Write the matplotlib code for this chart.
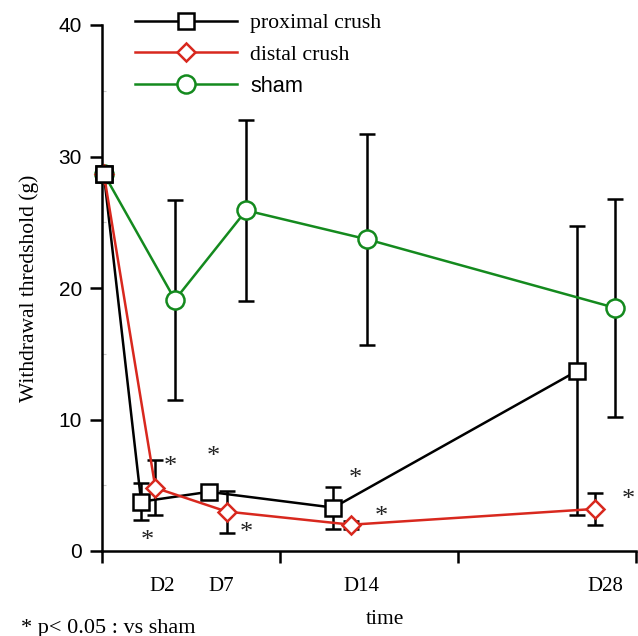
"""Withdrawal threshold after nerve crush, by group."""

import matplotlib
matplotlib.use("Agg")
import matplotlib.pyplot as plt
import matplotlib.transforms as mtransforms
from matplotlib.ticker import MultipleLocator

# x positions are days, each group nudged sideways like the original
prox_x = [0.1, 2.2, 6.0, 13.0, 26.7]
prox_y = [28.7, 3.75, 4.5, 3.3, 13.7]
prox_err = [0.0, 1.4, 0.4, 1.6, 11.0]

dist_x = [0.1, 3.0, 7.0, 14.0, 27.7]
dist_y = [28.7, 4.8, 3.0, 2.0, 3.2]
dist_err = [0.0, 2.1, 1.6, 0.3, 1.2]

sham_x = [0.1, 4.1, 8.1, 14.9, 28.8]
sham_y = [28.7, 19.1, 25.9, 23.7, 18.5]
sham_err = [0.0, 7.6, 6.9, 8.0, 8.3]

day_labels = ["D2", "D7", "D14", "D28"]
day_label_x = [3.37, 6.7, 14.55, 28.26]

# significance marks vs sham
star_x = [3.82, 2.53, 6.24, 8.09, 14.21, 15.67, 29.55]
star_y = [6.39, 0.76, 7.15, 1.37, 5.48, 2.59, 3.88]

RED = "#d8281e"
GREEN = "#148a1e"
SERIF = "Liberation Serif"
SANS = "Liberation Sans"

fig = plt.figure(figsize=(6.38, 6.36), dpi=100)
ax = fig.add_axes([102 / 638, 1 - 551 / 636, 534 / 638, 526 / 636])

# error bars first, markers on top cover them
for xs, ys, es in [(prox_x, prox_y, prox_err), (dist_x, dist_y, dist_err), (sham_x, sham_y, sham_err)]:
    ax.errorbar(xs[1:], ys[1:], yerr=es[1:], fmt="none", ecolor="black",
                elinewidth=1.8, capsize=6, capthick=1.8, zorder=1, clip_on=False)

series = [
    (prox_x, prox_y, "black", "s", 12, "proximal crush", 3),
    (dist_x, dist_y, RED, "D", 9, "distal crush", 4),
    (sham_x, sham_y, GREEN, "o", 13, "sham", 2),
]
handles = []
for xs, ys, color, marker, ms, label, z in series:
    (line,) = ax.plot(xs, ys, color=color, lw=1.8, marker=marker, ms=ms,
                      mfc="white", mec=color, mew=1.8, label=label,
                      zorder=z, clip_on=False)
    handles.append(line)
# keep the starting square on top
ax.plot(prox_x[:1], prox_y[:1], ls="none", marker="s", ms=12, mfc="white",
        mec="black", mew=1.8, zorder=5, clip_on=False)

for sx, sy in zip(star_x, star_y):
    ax.text(sx, sy, "*", family=SERIF, fontsize=19, ha="center", va="center",
            color="#222222")

ax.set_xlim(0, 30)
ax.set_ylim(0, 40)
ax.set_xticks([0, 10, 20, 30])
ax.set_xticklabels([])
ax.set_yticks([0, 10, 20, 30, 40])
ax.yaxis.set_minor_locator(MultipleLocator(5))
ax.tick_params(axis="both", which="major", direction="out", length=8.5,
               width=1.8, labelsize=15, pad=6)
ax.tick_params(axis="y", which="minor", direction="in", length=3,
               width=0.8, color="#c8c8c8")
for lab in ax.get_yticklabels():
    lab.set_family(SANS)
for side in ["top", "right"]:
    ax.spines[side].set_visible(False)
for side in ["left", "bottom"]:
    ax.spines[side].set_linewidth(1.8)

ax.set_ylabel("Withdrawal thredshold (g)", family=SERIF, fontsize=15.5)
ax.yaxis.set_label_coords(-0.118, 0.5)

trans = mtransforms.blended_transform_factory(ax.transData, ax.transAxes)
for lx, lab in zip(day_label_x, day_labels):
    ax.text(lx, -0.067, lab, transform=trans, family=SERIF, fontsize=15,
            ha="center", va="center")
ax.text(0.53, -0.13, "time", transform=ax.transAxes, family=SERIF,
        fontsize=15.5, ha="center", va="center")
fig.text(21 / 638, 1 - 628 / 636, "* p< 0.05 : vs sham", family=SERIF,
         fontsize=16, ha="left", va="center")

leg = fig.legend(handles=handles, loc="upper left",
                 bbox_to_anchor=(124 / 638, 1 - 2 / 636), frameon=False,
                 fontsize=15.7, handlelength=4.7, handletextpad=0.6,
                 labelspacing=0.52, borderpad=0, numpoints=1)
fonts = [SERIF, SERIF, SANS]
for txt, fam in zip(leg.get_texts(), fonts):
    txt.set_family(fam)

fig.savefig("out.png", dpi=100)
plt.close(fig)
